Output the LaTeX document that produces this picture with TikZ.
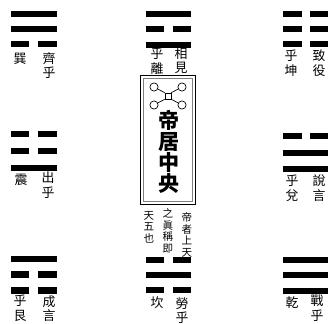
\documentclass[tikz,border=0pt]{standalone}
\usepackage{fontspec}
\newfontfamily\cjk{Noto Sans CJK TC}
\begin{document}
\begin{tikzpicture}[x=0.03cm,y=-0.03cm,
  yao/.style={line width=5.4pt},
  lbl/.style={inner sep=0pt,align=center,font=\cjk\fontsize{11}{12.5}\selectfont},
  big/.style={inner sep=0pt,align=center,font=\cjk\bfseries\fontsize{18}{18}\selectfont},
  note/.style={inner sep=0pt,align=center,font=\cjk\fontsize{9}{9.8}\selectfont}]
\useasboundingbox (0,0) rectangle (328,323);
% top left: xun
\draw[yao] (11,14) -- (57,14);
\draw[yao] (11,29) -- (57,29);
\draw[yao] (11,44) -- (28.5,44) (37.5,44) -- (57,44);
\node[lbl] (x1) at (20,59) {巽};
\node[lbl] (x2) at (49,65.5) {齊\\乎};
% top middle: li
\draw[yao] (146,14) -- (191,14);
\draw[yao] (146,29) -- (164,29) (173,29) -- (191,29);
\draw[yao] (146,45) -- (191,45);
\node[lbl] (l1) at (157,61.5) {乎\\離};
\node[lbl] (l2) at (181,60.5) {相\\見};
% top right: kun
\foreach \y in {14,29,44} \draw[yao] (283,\y) -- (302,\y) (310,\y) -- (330,\y);
\node[lbl] (k1) at (291,63) {乎\\坤};
\node[lbl] (k2) at (319,63) {致\\役};
% middle left: zhen
\draw[yao] (11,134) -- (28.5,134) (37.5,134) -- (57,134);
\draw[yao] (11,151) -- (28.5,151) (37.5,151) -- (57,151);
\draw[yao] (11,168) -- (57,168);
\node[lbl] (z1) at (21,180) {震};
\node[lbl] (z2) at (48,185) {出\\乎};
% middle right: dui
\draw[yao] (283,136) -- (302,136) (310,136) -- (330,136);
\draw[yao] (283,153) -- (330,153);
\draw[yao] (283,169) -- (330,169);
\node[lbl] (d1) at (292,188) {乎\\兌};
\node[lbl] (d2) at (319,188) {說\\言};
% bottom left: gen
\draw[yao] (11,259) -- (57,259);
\draw[yao] (11,274.5) -- (28.5,274.5) (37.5,274.5) -- (57,274.5);
\draw[yao] (11,290.5) -- (28.5,290.5) (37.5,290.5) -- (57,290.5);
\node[lbl] (g1) at (20,308) {乎\\艮};
\node[lbl] (g2) at (49,308.5) {成\\言};
% bottom middle: kan
\draw[yao] (146,260) -- (164,260) (173,260) -- (191,260);
\draw[yao] (146,275) -- (191,275);
\draw[yao] (146,290) -- (164,290) (173,290) -- (191,290);
\node[lbl] (c1) at (157,303) {坎};
\node[lbl] (c2) at (182,310.5) {勞\\乎};
% bottom right: qian
\foreach \y in {260,275,291} \draw[yao] (283,\y) -- (330,\y);
\node[lbl] (q1) at (292,303) {乾};
\node[lbl] (q2) at (317,308) {戰\\乎};
% centre box
\draw[line width=0.8pt] (140,75) rectangle (195,204);
\draw[line width=0.4pt,gray] (143,78) rectangle (192,201);
\node[draw,line width=0.6pt,minimum size=5pt,inner sep=0pt] (s0) at (168,96) {};
\node[draw,circle,line width=0.6pt,minimum size=7pt,inner sep=0pt] (o1) at (154,87) {};
\node[draw,circle,line width=0.6pt,minimum size=7pt,inner sep=0pt] (o2) at (182,87) {};
\node[draw,circle,line width=0.6pt,minimum size=7pt,inner sep=0pt] (o3) at (154,105) {};
\node[draw,circle,line width=0.6pt,minimum size=7pt,inner sep=0pt] (o4) at (182,105) {};
\draw[line width=0.6pt] (s0.north west) -- (o1) (s0.north east) -- (o2)
  (s0.south west) -- (o3) (s0.south east) -- (o4);
\node[big] (t1) at (169,152) {帝\\居\\中\\央};
% note below box
\node[note] (n1) at (187,235) {帝\\者\\上\\天};
\node[note] (n2) at (168,231) {之\\眞\\稱\\即};
\node[note] (n3) at (149,227) {天\\五\\也};
\end{tikzpicture}
\end{document}
